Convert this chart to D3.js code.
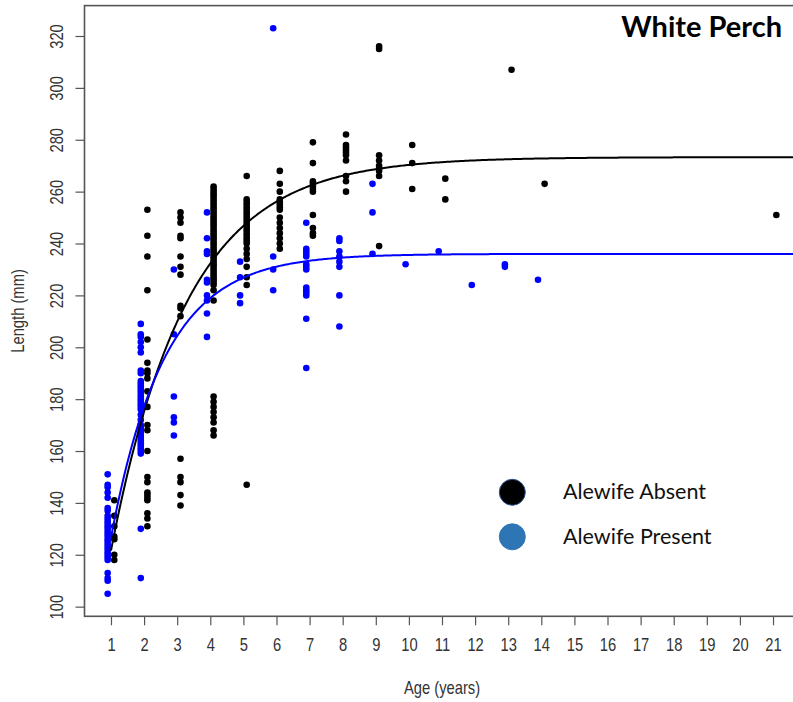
<!DOCTYPE html>
<html>
<head>
<meta charset="utf-8">
<script src="https://cdn.jsdelivr.net/npm/d3@7"></script>
<style>
  body { margin: 0; background: #fff; }
  svg { display: block; }
</style>
</head>
<body>
<script>
// ---- data -------------------------------------------------------------
const titleText = "White Perch";
const legendLabels = ["Alewife Absent", "Alewife Present"];
const ageTicks = [1, 2, 3, 4, 5, 6, 7, 8, 9, 10, 11, 12, 13, 14, 15, 16, 17, 18, 19, 20, 21];
const lengthTicks = [100, 120, 140, 160, 180, 200, 220, 240, 260, 280, 300, 320];

// total length (mm) of each fish, grouped by age (years)
const absentAges = [1, 2, 3, 4, 5, 6, 7, 8, 9, 10, 11, 13, 14, 21];
const absentLengths = [
  [141, 135, 131, 127, 126, 120, 118],
  [253, 243, 235, 222, 203, 194, 191, 190, 188, 183, 177, 170, 168, 160, 150, 148, 144, 143, 142, 141, 136, 134, 131],
  [252, 250, 248, 243, 242, 235, 231, 228, 216, 215, 212, 157, 150, 148, 143, 139],
  [262, 261, 260, 259, 258, 257, 256, 255, 254, 253, 252, 251, 250, 249, 248, 247, 246, 245, 244, 243, 242,
   241, 240, 239, 238, 237, 236, 235, 234, 233, 232, 231, 230, 229, 228, 227, 226, 225, 224, 222, 218,
   181, 179, 177, 175, 173, 171, 168, 166],
  [266, 257, 256, 255, 254, 253, 252, 251, 250, 249, 248, 247, 246, 245, 244, 243, 242, 241, 240, 238, 236, 234, 231, 227, 224, 147],
  [268, 263, 260, 257, 256, 255, 254, 253, 250, 248, 246, 244, 242, 240, 238],
  [279, 271, 264, 263, 262, 261, 260, 251, 246, 244, 243],
  [282, 278, 277, 276, 275, 274, 272, 266, 264, 260],
  [316, 315, 274, 272, 270, 269, 268, 266, 239],
  [278, 271, 261],
  [265, 257],
  [307],
  [263],
  [251]
];

const presentAges = [1, 2, 3, 4, 5, 6, 7, 8, 9, 10, 11, 12, 13, 14];
const presentLengths = [
  [151, 147, 146, 144, 142, 138, 137, 135, 134, 133, 132, 131, 130, 129, 128, 127, 126, 125, 124, 123, 122,
   121, 120, 119, 118, 113, 111, 110, 105],
  [209, 205, 204, 202, 200, 198, 191, 190, 187, 186, 185, 184, 183, 182, 181, 180, 179, 178, 177, 176, 174,
   172, 170, 169, 168, 167, 166, 165, 164, 163, 162, 161, 160, 159, 130, 111],
  [230, 205, 181, 173, 171, 166],
  [252, 242, 237, 236, 226, 225, 220, 218, 213, 204],
  [233, 227, 220, 217],
  [323, 235, 230, 222],
  [248, 238, 237, 236, 235, 232, 231, 230, 223, 222, 221, 220, 211, 192],
  [242, 241, 237, 235, 233, 231, 220, 208],
  [263, 252, 236],
  [232],
  [237],
  [224],
  [232, 231],
  [226]
];

// von Bertalanffy growth fits: [L-infinity, K, t0]
const absentFit = [273.3, 0.436, -0.35];
const presentFit = [236.0, 0.62, -0.24];

// ---- layout -----------------------------------------------------------
const W = 793, H = 702;
const plot = { left: 84.5, right: 799.5, top: 5.6, bottom: 616.3 };
const axisFont = "'Liberation Sans', Arial, sans-serif";
const narrow = 0.82; // horizontal squeeze of the axis lettering
const colAbsent = "#000000", colPresent = "#0000ff";

const svg = d3.select("body").append("svg")
  .attr("width", W).attr("height", H)
  .attr("viewBox", `0 0 ${W} ${H}`);

// flatten the grouped lengths into points
const toPoints = (ages, lengths, group) =>
  ages.flatMap((a, i) => lengths[i].map(v => ({ age: a, len: v, group })));
const absentPts = toPoints(absentAges, absentLengths, "absent");
const presentPts = toPoints(presentAges, presentLengths, "present");
const allPts = absentPts.concat(presentPts);

// axis ranges padded by 4% like base R graphics
const pad = ([lo, hi]) => [lo - 0.04 * (hi - lo), hi + 0.04 * (hi - lo)];
const x = d3.scaleLinear().domain(pad(d3.extent(ageTicks))).range([plot.left, plot.right]);
const y = d3.scaleLinear().domain(pad(d3.extent(allPts, d => d.len))).range([plot.bottom, plot.top]);

// side-by-side offset of the two groups within an age class
const dodge = { present: -0.1, absent: 0.1 };

svg.append("defs").append("clipPath").attr("id", "plotClip")
  .append("rect")
  .attr("x", plot.left).attr("y", plot.top)
  .attr("width", plot.right - plot.left).attr("height", plot.bottom - plot.top);

// ---- axes -------------------------------------------------------------
const yAxis = svg.append("g")
  .attr("transform", `translate(${plot.left},0)`)
  .call(d3.axisLeft(y).tickValues(lengthTicks).tickSize(9).tickSizeOuter(0));
yAxis.select(".domain").remove();
yAxis.selectAll(".tick line").attr("stroke", "#555").attr("stroke-width", 1.2);
yAxis.selectAll(".tick text")
  .attr("transform", `rotate(-90) scale(${narrow},1)`)
  .attr("x", 0).attr("y", -22).attr("dy", 0)
  .attr("text-anchor", "middle")
  .attr("fill", "#333")
  .style("font-family", axisFont).style("font-size", "18px");

const xAxis = svg.append("g")
  .attr("transform", `translate(0,${plot.bottom})`)
  .call(d3.axisBottom(x).tickValues(ageTicks).tickSize(9).tickSizeOuter(0));
xAxis.select(".domain").remove();
xAxis.selectAll(".tick line").attr("stroke", "#555").attr("stroke-width", 1.2);
xAxis.selectAll(".tick text")
  .attr("transform", `scale(${narrow},1)`)
  .attr("y", 35).attr("dy", 0)
  .attr("fill", "#333")
  .style("font-family", axisFont).style("font-size", "18px");

svg.append("text")
  .attr("transform", `translate(${(plot.left + plot.right) / 2},694) scale(${narrow},1)`)
  .attr("text-anchor", "middle").attr("fill", "#333")
  .style("font-family", axisFont).style("font-size", "18px")
  .text("Age (years)");

svg.append("text")
  .attr("transform", `translate(24,${(plot.top + plot.bottom) / 2}) rotate(-90) scale(${narrow},1)`)
  .attr("text-anchor", "middle").attr("fill", "#333")
  .style("font-family", axisFont).style("font-size", "18px")
  .text("Length (mm)");

// plot frame
svg.append("rect")
  .attr("x", plot.left).attr("y", plot.top)
  .attr("width", plot.right - plot.left).attr("height", plot.bottom - plot.top)
  .attr("fill", "none").attr("stroke", "#555").attr("stroke-width", 1.6);

// ---- points -----------------------------------------------------------
const pts = svg.append("g").attr("clip-path", "url(#plotClip)");
pts.selectAll("circle.absent").data(absentPts).join("circle")
  .attr("class", "absent")
  .attr("cx", d => x(d.age + dodge.absent)).attr("cy", d => y(d.len))
  .attr("r", 3.3).attr("fill", colAbsent);
pts.selectAll("circle.present").data(presentPts).join("circle")
  .attr("class", "present")
  .attr("cx", d => x(d.age + dodge.present)).attr("cy", d => y(d.len))
  .attr("r", 3.3).attr("fill", colPresent);

// ---- fitted growth curves ---------------------------------------------
const vb = ([linf, k, t0]) => t => linf * (1 - Math.exp(-k * (t - t0)));
const curveAges = d3.range(1, 22.01, 0.05);
const line = d3.line().x(d => x(d[0])).y(d => y(d[1]));
const curves = svg.append("g").attr("clip-path", "url(#plotClip)").attr("fill", "none");
[[absentFit, colAbsent], [presentFit, colPresent]].forEach(([fit, col]) => {
  const f = vb(fit);
  curves.append("path")
    .attr("d", line(curveAges.map(t => [t, f(t)])))
    .attr("stroke", col).attr("stroke-width", 2);
});

// ---- title and legend -------------------------------------------------
svg.append("text")
  .attr("x", 782).attr("y", 37)
  .attr("text-anchor", "end")
  .style("font-family", "Lato, 'Open Sans', sans-serif")
  .style("font-weight", 700).style("font-size", "29px")
  .attr("fill", "#000")
  .text(titleText);

const legend = svg.append("g");
const legendColors = ["#000000", "#2e75b6"];
const legendStroke = ["#2f528f", "#2e75b6"];
legendLabels.forEach((lab, i) => {
  const cy = 492.3 + i * 44.5;
  legend.append("circle")
    .attr("cx", 512.3).attr("cy", cy).attr("r", 13)
    .attr("fill", legendColors[i])
    .attr("stroke", legendStroke[i]).attr("stroke-width", 1);
  legend.append("text")
    .attr("x", 563).attr("y", cy + 7)
    .style("font-family", "Lato, 'Open Sans', sans-serif")
    .style("font-size", "21.5px")
    .attr("fill", "#111")
    .text(lab);
});
</script>
</body>
</html>
